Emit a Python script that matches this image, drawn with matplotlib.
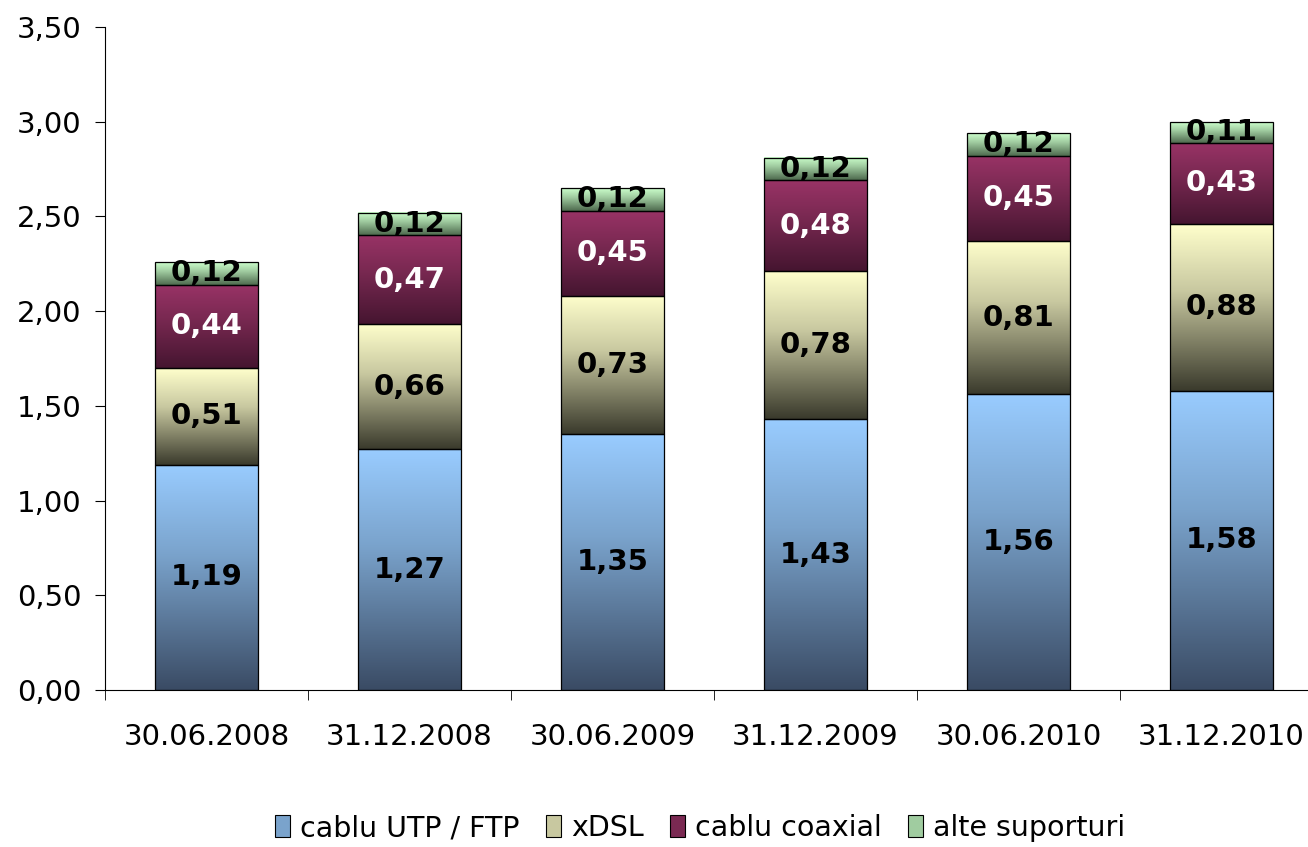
import numpy as np
import matplotlib
matplotlib.use('Agg')
import matplotlib.pyplot as plt
from matplotlib.colors import LinearSegmentedColormap
from matplotlib.patches import Rectangle, Patch

dates = ['30.06.2008', '31.12.2008', '30.06.2009', '31.12.2009', '30.06.2010', '31.12.2010']
utp = [1.19, 1.27, 1.35, 1.43, 1.56, 1.58]
xdsl = [0.51, 0.66, 0.73, 0.78, 0.81, 0.88]
coax = [0.44, 0.47, 0.45, 0.48, 0.45, 0.43]
alte = [0.12, 0.12, 0.12, 0.12, 0.12, 0.11]
series_names = ['cablu UTP / FTP', 'xDSL', 'cablu coaxial', 'alte suporturi']

# (bottom, middle, top) colours of the vertical gradient of each series
grad = [('#3a4b64', '#7aa3cc', '#99ccff'),
        ('#3a3a2c', '#c8c8a0', '#ffffcc'),
        ('#451530', '#7a2952', '#993366'),
        ('#4e6a4e', '#a0cca0', '#ccffcc')]
label_col = ['black', 'black', 'white', 'black']

plt.rcParams['font.family'] = 'DejaVu Sans'

fig = plt.figure(figsize=(13.08, 8.47), dpi=100)
ax = fig.add_axes([105 / 1308, (847 - 690) / 847, 1218 / 1308, 663 / 847])

x = np.arange(len(dates))
w = 0.51
bottom = np.zeros(len(dates))
grad_img = np.linspace(0, 1, 256).reshape(-1, 1)
for vals, cols, lc in zip([utp, xdsl, coax, alte], grad, label_col):
    cmap = LinearSegmentedColormap.from_list('g', list(zip([0, 0.6, 1], cols)))
    for i, v in enumerate(vals):
        b = bottom[i]
        ax.imshow(grad_img, cmap=cmap, aspect='auto', origin='lower',
                  extent=(x[i] - w / 2, x[i] + w / 2, b, b + v), zorder=2)
        ax.add_patch(Rectangle((x[i] - w / 2, b), w, v, fill=False,
                               edgecolor='black', linewidth=0.9, zorder=3))
        ax.text(x[i], b + v / 2, '{:.2f}'.format(v).replace('.', ','),
                ha='center', va='center', fontsize=21, fontweight='bold',
                color=lc, zorder=4)
    bottom += np.array(vals)

ax.set_xlim(-0.5, len(dates) - 0.5)
ax.set_ylim(0, 3.5)
yt = np.arange(0, 3.51, 0.5)
ax.set_yticks(yt)
ax.set_yticklabels(['{:.2f}'.format(t).replace('.', ',') for t in yt], fontsize=21)
ax.set_xticks(x)
ax.set_xticklabels(dates, fontsize=21)
ax.set_xticks(np.arange(-0.5, len(dates), 1), minor=True)
ax.tick_params(axis='x', which='major', length=0, pad=24)
ax.tick_params(axis='x', which='minor', length=7, direction='out')
ax.tick_params(axis='y', length=7, direction='out', pad=10)
for s in ['top', 'right']:
    ax.spines[s].set_visible(False)

handles = [Patch(facecolor=LinearSegmentedColormap.from_list('g', list(zip([0, 0.6, 1], cols)))(0.6),
                 edgecolor='black', linewidth=0.8) for cols in grad]
fig.legend(handles, series_names, loc='center', bbox_to_anchor=(700 / 1308, 1 - 828 / 847),
           ncol=4, frameon=False, fontsize=20.5, handlelength=0.55, handleheight=0.8,
           handletextpad=0.35, columnspacing=0.9)

fig.savefig('out.png', dpi=100)
